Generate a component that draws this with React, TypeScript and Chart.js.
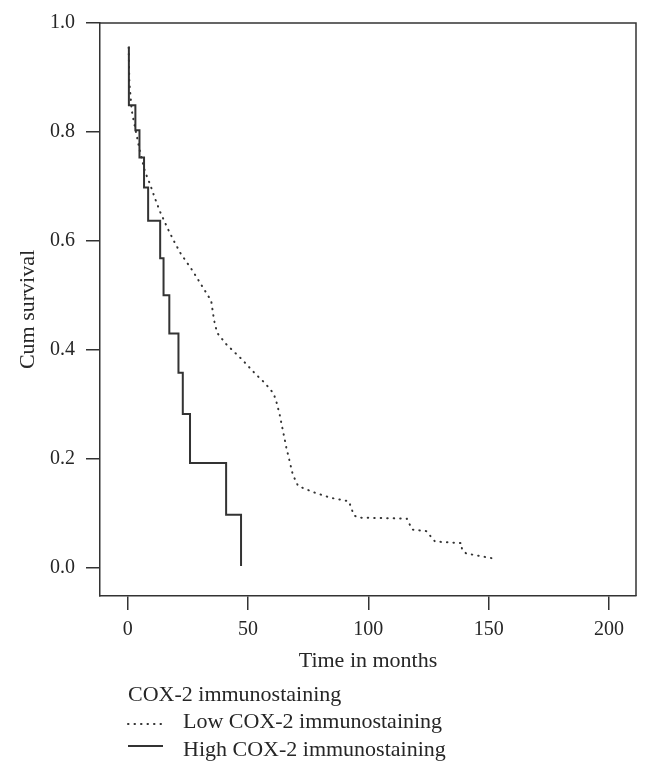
import React, { useEffect, useRef } from "react";
import { Chart, registerables } from "chart.js";

Chart.register(...registerables);

// Kaplan–Meier curves (time in months, cumulative survival)
const highTimes = [0.4, 0.5, 3.2, 4.9, 6.8, 8.5, 13.5, 14.9, 17.3, 21.1, 22.9, 25.9, 40.9, 47.1];
const highSurvival = [0.955, 0.849, 0.803, 0.753, 0.698, 0.637, 0.568, 0.5, 0.43, 0.358, 0.282, 0.192, 0.097, 0.003];

const lowTimes = [
  0.4, 0.7, 1.7, 2.6, 5.0, 7.2, 9.3, 11.1, 13.3, 16.8, 19.3, 22.0, 27.0, 31.6, 34.7, 35.9, 37.2, 41.0, 47.1, 53.0,
  57.0, 60.6, 61.7, 63.1, 65.9, 68.6, 70.8, 76.9, 84.6, 91.9, 94.0, 95.8, 116.0, 118.2, 124.1, 127.7, 138.7, 138.9,
  140.7, 151.8,
];
const lowSurvival = [
  0.955, 0.891, 0.839, 0.818, 0.766, 0.727, 0.704, 0.681, 0.655, 0.621, 0.599, 0.577, 0.545, 0.512, 0.49, 0.454,
  0.431, 0.41, 0.384, 0.356, 0.339, 0.32, 0.306, 0.282, 0.221, 0.171, 0.15, 0.139, 0.128, 0.122, 0.096, 0.092, 0.09,
  0.07, 0.067, 0.048, 0.045, 0.033, 0.026, 0.017,
];

const xTicks = [0, 50, 100, 150, 200];
const yTicks = [0, 0.2, 0.4, 0.6, 0.8, 1.0];

const legendTitle = "COX-2 immunostaining";
const lowLabel = "Low COX-2 immunostaining";
const highLabel = "High COX-2 immunostaining";
const xTitle = "Time in months";
const yTitle = "Cum survival";

const FONT = "'Liberation Serif', 'Times New Roman', serif";
const INK = "#262626";

const framePlugin = {
  id: "frame",
  afterDraw(chart: any) {
    const { ctx, chartArea: a } = chart;
    ctx.save();
    ctx.strokeStyle = "#333";
    ctx.lineWidth = 1.5;
    ctx.beginPath();
    ctx.moveTo(a.left, a.top);
    ctx.lineTo(a.right, a.top);
    ctx.lineTo(a.right, a.bottom);
    ctx.stroke();
    ctx.restore();
  },
};

export default function App() {
  const ref = useRef<HTMLCanvasElement | null>(null);

  useEffect(() => {
    if (!ref.current) return;
    const chart = new Chart(ref.current, {
      type: "line",
      data: {
        datasets: [
          {
            label: lowLabel,
            data: lowTimes.map((t, i) => ({ x: t, y: lowSurvival[i] })),
            borderColor: "#333",
            borderWidth: 2,
            borderDash: [0.5, 6],
            borderCapStyle: "round",
            pointRadius: 0,
            tension: 0,
            fill: false,
          },
          {
            label: highLabel,
            data: highTimes.map((t, i) => ({ x: t, y: highSurvival[i] })),
            borderColor: "#333",
            borderWidth: 2,
            stepped: "before",
            pointRadius: 0,
            fill: false,
          },
        ],
      },
      options: {
        animation: false,
        responsive: false,
        layout: { padding: { left: 0, right: 14, top: 20, bottom: 100 } },
        plugins: { legend: { display: false }, tooltip: { enabled: false } },
        scales: {
          x: {
            type: "linear",
            min: -11.5,
            max: 211.2,
            afterBuildTicks: (s: any) => {
              s.ticks = xTicks.map((v) => ({ value: v }));
            },
            afterFit: (s: any) => {
              s.height = 80;
            },
            grid: { drawOnChartArea: false, drawTicks: true, tickLength: 14, color: "#333", lineWidth: 1.5 },
            border: { display: true, color: "#333", width: 1.5 },
            ticks: { color: INK, font: { family: FONT, size: 20 }, padding: 8, maxRotation: 0 },
            title: {
              display: true,
              text: xTitle,
              color: INK,
              font: { family: FONT, size: 22 },
              padding: { top: 0, bottom: 2 },
            },
          },
          y: {
            type: "linear",
            min: -0.052,
            max: 1.0,
            afterBuildTicks: (s: any) => {
              s.ticks = yTicks.map((v) => ({ value: v }));
            },
            afterFit: (s: any) => {
              s.width = 100;
            },
            grid: { drawOnChartArea: false, drawTicks: true, tickLength: 14, color: "#333", lineWidth: 1.5 },
            border: { display: true, color: "#333", width: 1.5 },
            ticks: {
              color: INK,
              font: { family: FONT, size: 20 },
              padding: 11,
              callback: (v: any) => Number(v).toFixed(1),
            },
            title: {
              display: true,
              text: yTitle,
              color: INK,
              font: { family: FONT, size: 22 },
              padding: { top: 15, bottom: 0 },
            },
          },
        },
      },
      plugins: [framePlugin],
    });
    return () => chart.destroy();
  }, []);

  const textStyle: React.CSSProperties = {
    position: "absolute",
    fontFamily: FONT,
    fontSize: 22,
    lineHeight: "22px",
    color: INK,
    whiteSpace: "nowrap",
    margin: 0,
  };

  return (
    <div style={{ position: "absolute", left: 0, top: 0, width: 650, height: 776, background: "#fff" }}>
      <canvas ref={ref} width={650} height={776} style={{ display: "block", width: 650, height: 776 }} />
      <div style={{ ...textStyle, left: 128, top: 683 }}>{legendTitle}</div>
      <svg style={{ position: "absolute", left: 126, top: 716 }} width={40} height={40}>
        <line x1={2} y1={8} x2={36} y2={8} stroke="#333" strokeWidth={2} strokeDasharray="0.5 6" strokeLinecap="round" />
        <line x1={2} y1={30} x2={37} y2={30} stroke="#333" strokeWidth={2} />
      </svg>
      <div style={{ ...textStyle, left: 183, top: 710 }}>{lowLabel}</div>
      <div style={{ ...textStyle, left: 183, top: 738 }}>{highLabel}</div>
    </div>
  );
}
